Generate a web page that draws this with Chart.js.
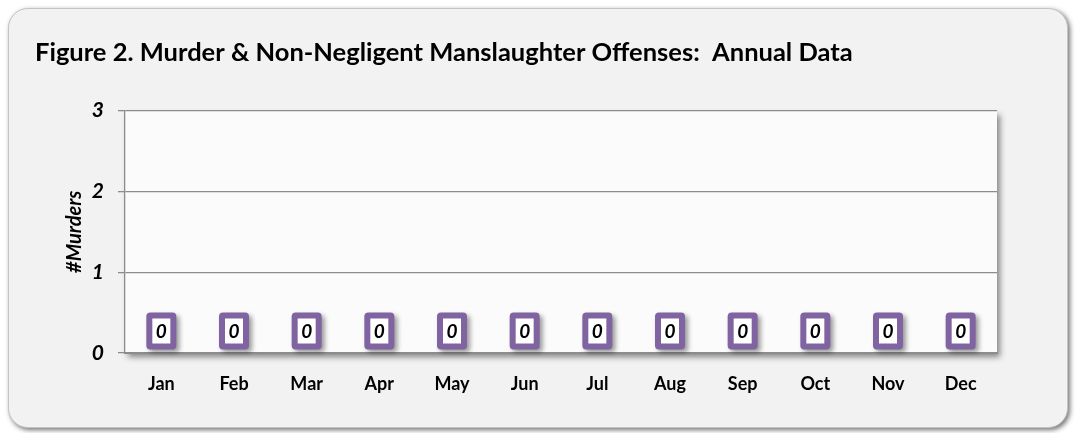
<!DOCTYPE html>
<html>
<head>
<meta charset="utf-8">
<script src="https://cdn.jsdelivr.net/npm/chart.js@4.4.0/dist/chart.umd.min.js"></script>
<style>
  body { margin: 0; background: #ffffff; }
  #panel {
    position: absolute; left: 8px; top: 8px; width: 1058px; height: 418px;
    background: #f2f2f2; border: 1px solid #c4c4c4; border-radius: 20px;
    box-shadow: 2px 2px 5px rgba(0,0,0,0.55);
  }
  #wrap { position: absolute; left: 0; top: 0; width: 1075px; height: 433px; }
</style>
</head>
<body>
<div id="panel"></div>
<div id="wrap"><canvas id="graphique"></canvas></div>
<script>
var mois = ["Jan", "Feb", "Mar", "Apr", "May", "Jun", "Jul", "Aug", "Sep", "Oct", "Nov", "Dec"];
var meurtres = [0, 0, 0, 0, 0, 0, 0, 0, 0, 0, 0, 0];
var graduations = [0, 1, 2, 3];

var police = "Lato, 'Open Sans', sans-serif";

// fond blanc de la zone de tracé avec ombre
var fondZone = {
    id: 'fondZone',
    beforeDraw: function(chart) {
        var ctx = chart.ctx, a = chart.chartArea;
        ctx.save();
        ctx.shadowColor = 'rgba(0,0,0,0.45)';
        ctx.shadowBlur = 6;
        ctx.shadowOffsetX = 3;
        ctx.shadowOffsetY = 4;
        ctx.fillStyle = '#fbfbfb';
        ctx.fillRect(a.left, a.top, a.right - a.left, a.bottom - a.top);
        ctx.restore();
    }
};

// étiquettes encadrées en violet
var etiquettes = {
    id: 'etiquettes',
    afterDatasetsDraw: function(chart) {
        var ctx = chart.ctx;
        var meta = chart.getDatasetMeta(0);
        var y0 = chart.scales.y.getPixelForValue(0);
        meta.data.forEach(function(barre, i) {
            var x = barre.x;
            var yc = Math.min(barre.y, y0) - 22;
            var w = 26, h = 33;
            ctx.save();
            ctx.shadowColor = 'rgba(0,0,0,0.4)';
            ctx.shadowBlur = 5;
            ctx.shadowOffsetX = 3;
            ctx.shadowOffsetY = 3;
            ctx.fillStyle = '#8064a2';
            ctx.beginPath();
            ctx.roundRect(x - w / 2 - 2, yc - h / 2 - 2, w + 4, h + 4, 4);
            ctx.fill();
            ctx.restore();
            ctx.save();
            ctx.fillStyle = '#ffffff';
            ctx.fillRect(x - w / 2 + 4, yc - h / 2 + 4, w - 8, h - 8);
            ctx.fillStyle = '#000000';
            ctx.font = 'italic bold 19px ' + police;
            ctx.textAlign = 'center';
            ctx.textBaseline = 'middle';
            ctx.fillText(String(meurtres[i]), x, yc + 1);
            ctx.restore();
        });
    }
};

var ctx = document.getElementById('graphique').getContext('2d');
var chart = new Chart(ctx, {
    type: 'bar',
    data: {
        labels: mois,
        datasets: [
            {
                label: "#Murders",
                backgroundColor: "#8064a2",
                data: meurtres
            }
        ]
    },
    options: {
        responsive: true,
        maintainAspectRatio: false,
        animation: false,
        layout: { padding: { left: 35, right: 78, top: 37, bottom: 20 } },
        plugins: {
            legend: { display: false },
            tooltip: { enabled: false },
            title: {
                display: true,
                align: 'start',
                text: 'Figure 2. Murder & Non-Negligent Manslaughter Offenses:  Annual Data',
                color: '#000000',
                font: { family: police, size: 25.5, weight: 'bold', lineHeight: 1.2 },
                padding: { top: 0, bottom: 43 }
            }
        },
        scales: {
            x: {
                grid: { display: false, drawTicks: false },
                border: { display: true, color: '#8c8c8c', width: 2 },
                ticks: {
                    color: '#000000',
                    padding: 20,
                    font: { family: police, size: 18, weight: 'bold' }
                },
                afterFit: function(s) { s.height = 60; }
            },
            y: {
                min: 0,
                max: 3,
                afterBuildTicks: function(s) {
                    s.ticks = graduations.map(function(v) { return { value: v }; });
                },
                grid: { color: '#8c8c8c', tickLength: 7, lineWidth: 1.3 },
                border: { display: true, color: '#8c8c8c', width: 1.3 },
                ticks: {
                    color: '#000000',
                    padding: 14,
                    font: { family: police, size: 21, weight: 'bold', style: 'italic' }
                },
                title: {
                    display: true,
                    text: '#Murders',
                    color: '#000000',
                    padding: { top: 28, bottom: 0 },
                    font: { family: police, size: 20, weight: 'bold', style: 'italic' }
                },
                afterFit: function(s) { s.width = 90; }
            }
        }
    },
    plugins: [fondZone, etiquettes]
});
</script>
</body>
</html>
